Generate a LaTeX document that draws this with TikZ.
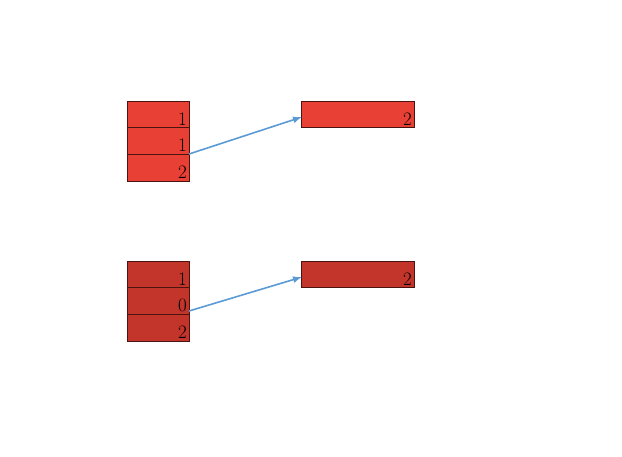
\documentclass[tikz,border=0pt]{standalone}
\usetikzlibrary{arrows.meta}
\definecolor{cellA}{HTML}{E84034}
\definecolor{cellB}{HTML}{C3342B}
\definecolor{edge}{HTML}{4A1410}
\definecolor{arr}{HTML}{5B9BD5}
\begin{document}
\begin{tikzpicture}[x=1pt,y=-1pt,
  cell/.style={draw=edge,line width=1pt,minimum width=62pt,minimum height=26.7pt,inner sep=0pt,outer sep=0pt,anchor=north west},
  wide/.style={cell,minimum width=113pt},
  num/.style={anchor=south east,inner xsep=2pt,inner ysep=2.5pt,font=\fontsize{19}{19}\selectfont},
  ptr/.style={draw=arr,line width=1.6pt,-{Latex[length=9pt,width=7pt]}}]
\useasboundingbox (0,0) rectangle (622,456);
% top
\node[cell,fill=cellA] (a1) at (127,101) {};
\node[cell,fill=cellA] (a2) at (127,127.7) {};
\node[cell,fill=cellA] (a3) at (127,154.4) {};
\node[wide,fill=cellA] (b1) at (301,101) {};
\node[num] (ta1) at (a1.south east) {1};
\node[num] (ta2) at (a2.south east) {1};
\node[num] (ta3) at (a3.south east) {2};
\node[num] (tb1) at (b1.south east) {2};
\coordinate (sa) at (189,154);
\coordinate (ea) at (302,117);
\draw[ptr] (sa) -- (ea);
% bottom
\node[cell,fill=cellB] (c1) at (127,261) {};
\node[cell,fill=cellB] (c2) at (127,287.7) {};
\node[cell,fill=cellB] (c3) at (127,314.4) {};
\node[wide,fill=cellB] (d1) at (301,261) {};
\node[num] (tc1) at (c1.south east) {1};
\node[num] (tc2) at (c2.south east) {0};
\node[num] (tc3) at (c3.south east) {2};
\node[num] (td1) at (d1.south east) {2};
\coordinate (sc) at (189,311);
\coordinate (ec) at (302,277);
\draw[ptr] (sc) -- (ec);
\end{tikzpicture}
\end{document}
